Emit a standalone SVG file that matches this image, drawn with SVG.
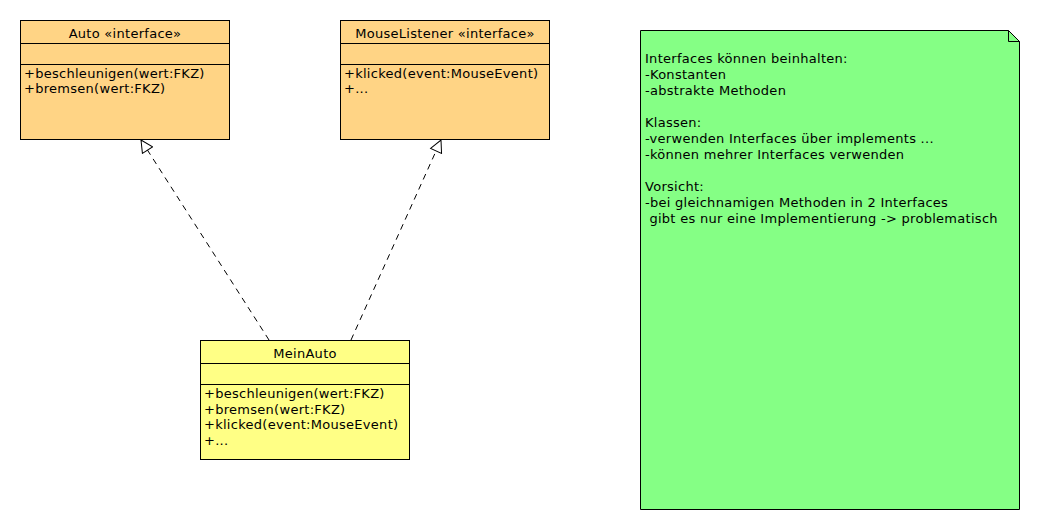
<svg xmlns="http://www.w3.org/2000/svg" width="1040" height="530" viewBox="0 0 1040 530">
<style>
text{font-family:"DejaVu Sans","Liberation Sans",sans-serif;font-size:13px;letter-spacing:0.28px;fill:#000}
.box{stroke:#000;stroke-width:1}
.iface{fill:#ffd485}
.cls{fill:#ffff85}
.note{fill:#85ff85;stroke:#000;stroke-width:1}
.sep{stroke:#000;stroke-width:1}
.dep{fill:none;stroke:#000;stroke-width:1;stroke-dasharray:6,5}
.c{text-anchor:middle}
</style>
<defs>
<marker id="real" markerWidth="14" markerHeight="14" refX="13" refY="7" orient="auto" markerUnits="userSpaceOnUse">
<path d="M1,1 L13,7 L1,13 Z" fill="#fff" stroke="#000" stroke-width="1"/>
</marker>
</defs>
<g id="connectors">
<line class="dep" x1="269" y1="340" x2="141" y2="140" marker-end="url(#real)"/>
<line class="dep" x1="351" y1="340" x2="441" y2="140" marker-end="url(#real)"/>
</g>
<g id="auto">
<rect class="box iface" x="20.5" y="20.5" width="209" height="119"/>
<line class="sep" x1="20.5" y1="43.5" x2="229.5" y2="43.5"/>
<line class="sep" x1="20.5" y1="64.5" x2="229.5" y2="64.5"/>
<text class="c" x="125" y="37.5">Auto «interface»</text>
<text x="24" y="78">+beschleunigen(wert:FKZ)</text>
<text x="24" y="93">+bremsen(wert:FKZ)</text>
</g>
<g id="mouselistener">
<rect class="box iface" x="340.5" y="20.5" width="209" height="119"/>
<line class="sep" x1="340.5" y1="43.5" x2="549.5" y2="43.5"/>
<line class="sep" x1="340.5" y1="64.5" x2="549.5" y2="64.5"/>
<text class="c" x="445" y="37.5">MouseListener «interface»</text>
<text x="344" y="78">+klicked(event:MouseEvent)</text>
<text x="344" y="93">+...</text>
</g>
<g id="meinauto">
<rect class="box cls" x="200.5" y="340.5" width="209" height="119"/>
<line class="sep" x1="200.5" y1="363.5" x2="409.5" y2="363.5"/>
<line class="sep" x1="200.5" y1="384.5" x2="409.5" y2="384.5"/>
<text class="c" x="305" y="357.5">MeinAuto</text>
<text x="204" y="398">+beschleunigen(wert:FKZ)</text>
<text x="204" y="413.5">+bremsen(wert:FKZ)</text>
<text x="204" y="429">+klicked(event:MouseEvent)</text>
<text x="204" y="444.5">+...</text>
</g>
<g id="note">
<path class="note" d="M640.5,30.5 L1008.5,30.5 L1019.5,41.5 L1019.5,509.5 L640.5,509.5 Z"/>
<path d="M1008.5,30.5 L1008.5,41.5 L1019.5,41.5" fill="none" stroke="#000" stroke-width="1"/>
<text x="645" y="63">Interfaces können beinhalten:</text>
<text x="645" y="79">-Konstanten</text>
<text x="645" y="95">-abstrakte Methoden</text>
<text x="645" y="127">Klassen:</text>
<text x="645" y="143">-verwenden Interfaces über implements ...</text>
<text x="645" y="159">-können mehrer Interfaces verwenden</text>
<text x="645" y="191">Vorsicht:</text>
<text x="645" y="207">-bei gleichnamigen Methoden in 2 Interfaces</text>
<text x="645" y="223" xml:space="preserve"> gibt es nur eine Implementierung -&gt; problematisch</text>
</g>
</svg>
